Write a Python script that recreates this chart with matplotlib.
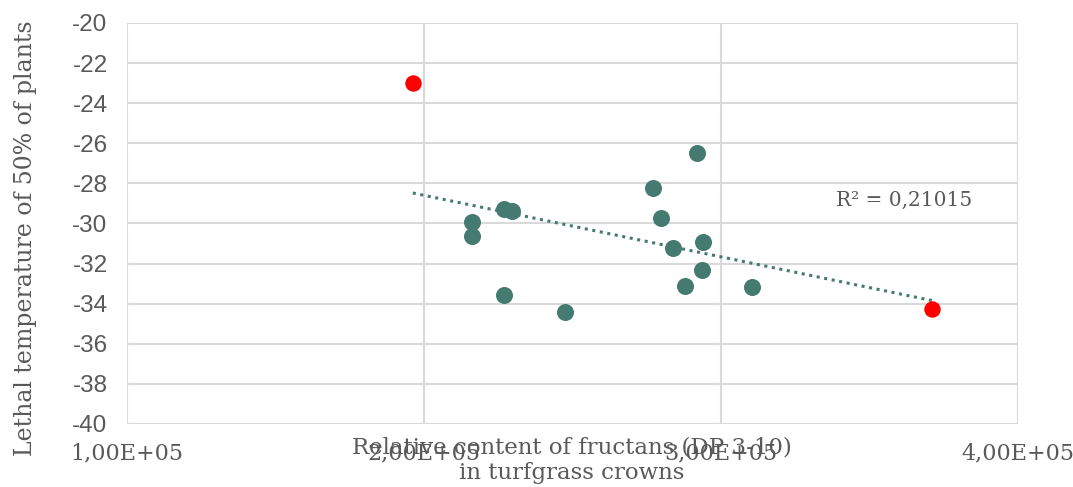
import matplotlib
matplotlib.use("Agg")
import matplotlib.pyplot as plt
import numpy as np

# fructan content (relative units) vs LT50 (deg C)
fructans = [2.920e5, 2.770e5, 2.268e5, 2.296e5, 2.163e5, 2.163e5, 2.798e5,
            2.837e5, 2.938e5, 2.936e5, 2.879e5, 3.104e5, 2.269e5, 2.474e5]
lt50 = [-26.5, -28.21, -29.29, -29.36, -29.94, -30.64, -29.74,
        -31.22, -30.94, -32.33, -33.10, -33.18, -33.58, -34.43]

# highlighted extremes
red_fructans = [1.962e5, 3.711e5]
red_lt50 = [-23.0, -34.26]

r2_label = "R² = 0,21015"
x_ticks = [1e5, 2e5, 3e5, 4e5]
x_tick_labels = ["1,00E+05", "2,00E+05", "3,00E+05", "4,00E+05"]
y_ticks = list(range(-40, -19, 2))

teal = "#447a70"
grey_txt = "#595959"
serif = ["DejaVu Serif"]

fig = plt.figure(figsize=(10.73, 4.87), dpi=100)
ax = fig.add_axes([0.1184, 0.1294, 0.8304, 0.8234])

ax.set_xlim(1e5, 4e5)
ax.set_ylim(-40, -20)
ax.set_xticks(x_ticks)
ax.set_xticklabels(x_tick_labels, family=serif, fontsize=16, color=grey_txt)
ax.set_yticks(y_ticks)
ax.set_yticklabels([str(v) for v in y_ticks], family=["Liberation Sans"], fontsize=17.5, color=grey_txt)
ax.tick_params(length=0, axis="x", pad=13)
ax.tick_params(length=0, axis="y", pad=14)
ax.grid(True, color="#d9d9d9", linewidth=1.5)
ax.set_axisbelow(True)
for sp in ax.spines.values():
    sp.set_visible(False)

# linear trend over all points
all_x = np.array(fructans + red_fructans)
all_y = np.array(lt50 + red_lt50)
k, b = np.polyfit(all_x, all_y, 1)
tx = np.array([all_x.min(), all_x.max()])
ax.plot(tx, k * tx + b, color=teal, linewidth=2.2, linestyle=(0, (1, 1.5)), zorder=2)

ax.scatter(fructans, lt50, s=150, color=teal, linewidths=0, zorder=3)
ax.scatter(red_fructans, red_lt50, s=140, color="#ff0000", linewidths=0, zorder=3)

ax.text(3.617e5, -28.83, r2_label, family=serif, fontsize=14.5, color=grey_txt,
        ha="center", va="center")

fig.text(0.533, 0.0554, "Relative content of fructans (DP 3-10)\nin turfgrass crowns",
         family=serif, fontsize=16.5, color=grey_txt, ha="center", va="center",
         linespacing=1.2)
fig.text(0.024, 0.511, "Lethal temperature of 50% of plants", family=serif, fontsize=17,
         color=grey_txt, ha="center", va="center", rotation=90)

fig.savefig("out.png", dpi=100)
